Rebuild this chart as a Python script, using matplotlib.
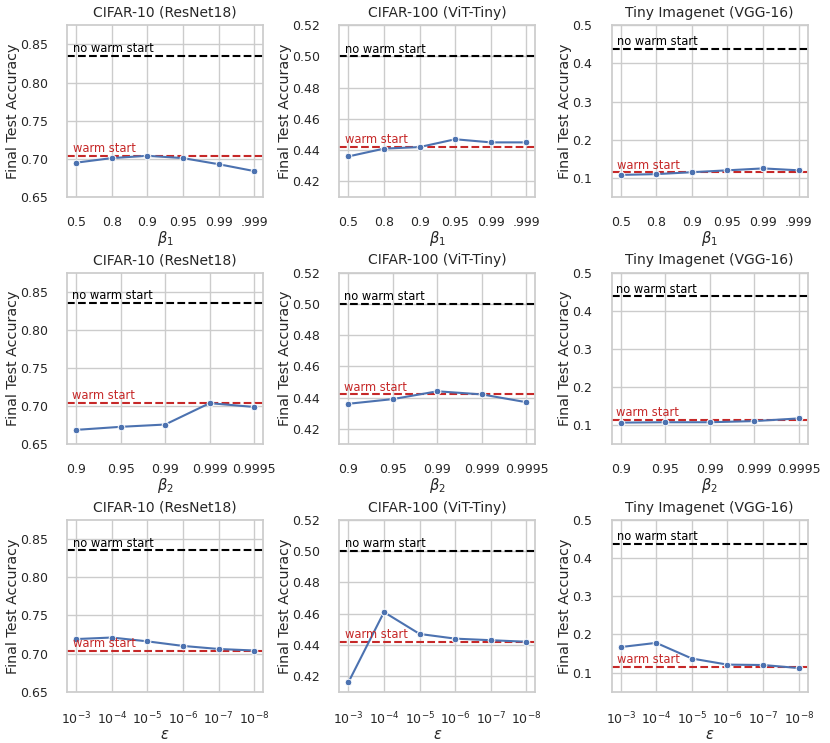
import numpy as np
import matplotlib
matplotlib.use('Agg')
import matplotlib.pyplot as plt
import seaborn as sns

sns.set_theme(style='whitegrid')
plt.rcParams['font.family'] = ['DejaVu Sans']

datasets = ['CIFAR-10 (ResNet18)', 'CIFAR-100 (ViT-Tiny)', 'Tiny Imagenet (VGG-16)']
no_warm = [0.835, 0.500, 0.438]
warm = [0.704, 0.442, 0.115]
ylims = [(0.65, 0.875), (0.41, 0.52), (0.05, 0.5)]
yticks = [[0.65, 0.70, 0.75, 0.80, 0.85],
          [0.42, 0.44, 0.46, 0.48, 0.50, 0.52],
          [0.1, 0.2, 0.3, 0.4, 0.5]]
yfmt = ['{:.2f}', '{:.2f}', '{:.1f}']

# hyperparameter sweeps
beta1_labels = ['0.5', '0.8', '0.9', '0.95', '0.99', '.999']
beta1_acc = [
    [0.695, 0.701, 0.704, 0.701, 0.693, 0.684],
    [0.436, 0.441, 0.442, 0.447, 0.445, 0.445],
    [0.108, 0.110, 0.115, 0.120, 0.125, 0.120],
]
beta2_labels = ['0.9', '0.95', '0.99', '0.999', '0.9995']
beta2_acc = [
    [0.669, 0.673, 0.676, 0.704, 0.699],
    [0.436, 0.439, 0.444, 0.442, 0.437],
    [0.107, 0.108, 0.108, 0.111, 0.118],
]
eps_labels = [r'$10^{-3}$', r'$10^{-4}$', r'$10^{-5}$', r'$10^{-6}$', r'$10^{-7}$', r'$10^{-8}$']
eps_acc = [
    [0.719, 0.721, 0.716, 0.710, 0.706, 0.704],
    [0.416, 0.461, 0.447, 0.444, 0.443, 0.442],
    [0.167, 0.178, 0.137, 0.121, 0.120, 0.112],
]

rows = [(beta1_labels, beta1_acc, r'$\beta_1$'),
        (beta2_labels, beta2_acc, r'$\beta_2$'),
        (eps_labels, eps_acc, r'$\varepsilon$')]

fig, axes = plt.subplots(3, 3, figsize=(8.3, 7.43), dpi=100)
fig.subplots_adjust(left=0.081, right=0.973, top=0.966, bottom=0.069, wspace=0.39, hspace=0.44)

for r, (labels, accs, xlab) in enumerate(rows):
    for c in range(3):
        ax = axes[r, c]
        x = np.arange(len(labels))
        ax.plot(x, accs[c], marker='o', color='#4C72B0', lw=1.5, ms=4.8,
                markeredgecolor='white', markeredgewidth=0.7, zorder=3)
        ax.axhline(no_warm[c], color='black', ls='--', lw=1.5)
        ax.axhline(warm[c], color='#c62828', ls='--', lw=1.5)
        ax.annotate('no warm start', xy=(-0.1, no_warm[c]), xytext=(0, 0.5),
                    textcoords='offset points', va='bottom', fontsize=8.3, color='black')
        ax.annotate('warm start', xy=(-0.1, warm[c]), xytext=(0, 0.5),
                    textcoords='offset points', va='bottom', fontsize=8.3, color='#c62828')
        ax.set_xticks(x)
        ax.set_xticklabels(labels)
        ax.set_ylim(*ylims[c])
        ax.set_yticks(yticks[c])
        ax.set_yticklabels([yfmt[c].format(v) for v in yticks[c]])
        ax.set_title(datasets[c], fontsize=10)
        ax.set_xlabel(xlab, fontsize=10.5, labelpad=0)
        ax.set_ylabel('Final Test Accuracy', fontsize=10.3, labelpad=0)
        ax.tick_params(axis='x', labelsize=9, pad=7.5)
        ax.tick_params(axis='y', labelsize=9, pad=8)

plt.savefig('out.png', dpi=100)
